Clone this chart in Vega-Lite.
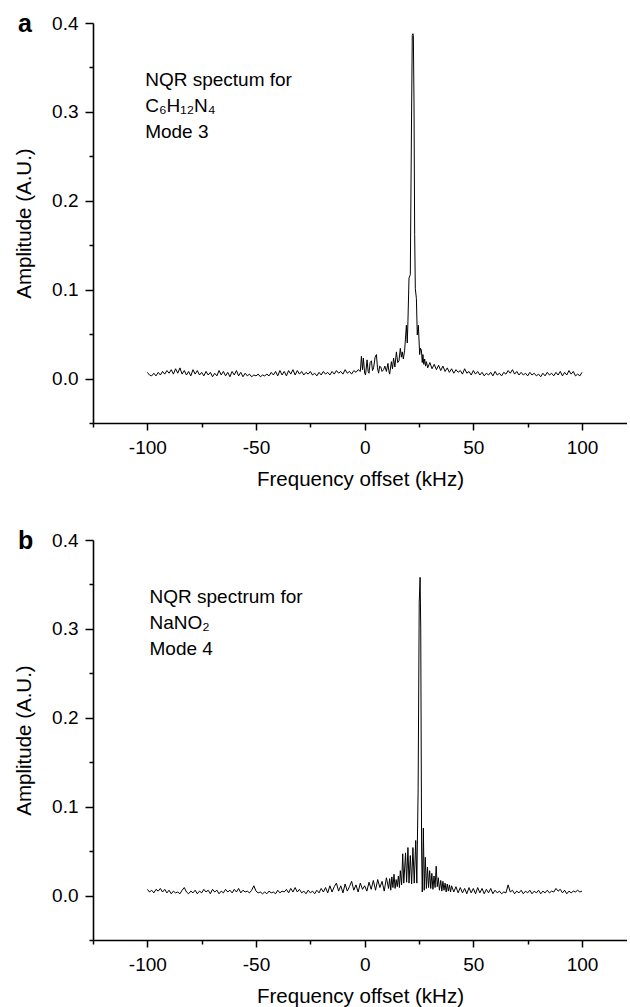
{
"$schema": "https://vega.github.io/schema/vega-lite/v6.json",
"padding": {"left": 14, "top": 11, "right": 0, "bottom": 0},
"bounds": "flush",
"spacing": 117,
"config": {
 "view": {"stroke": null},
 "font": "Liberation Sans",
 "axis": {"domainColor": "black", "domainWidth": 1.6, "tickColor": "black", "tickWidth": 1.5, "labelColor": "black", "labelFontSize": 19, "labelFont": "Liberation Sans", "titleFont": "Liberation Sans", "titleFontSize": 20.5, "titleFontWeight": "normal", "titleColor": "black", "grid": false, "labelFlush": false, "labelOverlap": false}
},
"datasets": {
"sa": [
{"f":-100,"v":0.007},{"f":-99,"v":0.004},{"f":-98,"v":0.003},{"f":-97,"v":0.006},{"f":-96,"v":0.003},{"f":-95,"v":0.007},{"f":-94,"v":0.004},{"f":-93,"v":0.008},{"f":-92,"v":0.005},{"f":-91,"v":0.009},{"f":-90,"v":0.006},{"f":-89,"v":0.010},{"f":-88,"v":0.005},{"f":-87,"v":0.011},{"f":-86,"v":0.006},{"f":-85,"v":0.012},{"f":-84,"v":0.005},{"f":-83,"v":0.009},{"f":-82,"v":0.004},{"f":-81,"v":0.008},{"f":-80,"v":0.003},{"f":-79,"v":0.010},{"f":-78,"v":0.005},{"f":-77,"v":0.009},{"f":-76,"v":0.004},{"f":-75,"v":0.007},{"f":-74,"v":0.003},{"f":-73,"v":0.008},{"f":-72,"v":0.004},{"f":-71,"v":0.007},{"f":-70,"v":0.002},{"f":-69,"v":0.006},{"f":-68,"v":0.003},{"f":-67,"v":0.009},{"f":-66,"v":0.004},{"f":-65,"v":0.008},{"f":-64,"v":0.003},{"f":-63,"v":0.007},{"f":-62,"v":0.002},{"f":-61,"v":0.008},{"f":-60,"v":0.004},{"f":-59,"v":0.009},{"f":-58,"v":0.003},{"f":-57,"v":0.007},{"f":-56,"v":0.002},{"f":-55,"v":0.006},{"f":-54,"v":0.003},{"f":-53,"v":0.005},{"f":-52,"v":0.002},{"f":-51,"v":0.004},{"f":-50,"v":0.003},{"f":-49,"v":0.005},{"f":-48,"v":0.002},{"f":-47,"v":0.004},{"f":-46,"v":0.003},{"f":-45,"v":0.005},{"f":-44,"v":0.003},{"f":-43,"v":0.007},{"f":-42,"v":0.004},{"f":-41,"v":0.008},{"f":-40,"v":0.003},{"f":-39,"v":0.009},{"f":-38,"v":0.004},{"f":-37,"v":0.008},{"f":-36,"v":0.003},{"f":-35,"v":0.009},{"f":-34,"v":0.005},{"f":-33,"v":0.010},{"f":-32,"v":0.004},{"f":-31,"v":0.009},{"f":-30,"v":0.005},{"f":-29,"v":0.008},{"f":-28,"v":0.004},{"f":-27,"v":0.007},{"f":-26,"v":0.005},{"f":-25,"v":0.008},{"f":-24,"v":0.004},{"f":-23,"v":0.006},{"f":-22,"v":0.003},{"f":-21,"v":0.007},{"f":-20,"v":0.004},{"f":-19,"v":0.008},{"f":-18,"v":0.005},{"f":-17,"v":0.007},{"f":-16,"v":0.004},{"f":-15,"v":0.008},{"f":-14,"v":0.005},{"f":-13,"v":0.009},{"f":-12,"v":0.006},{"f":-11,"v":0.008},{"f":-10,"v":0.005},{"f":-9,"v":0.010},{"f":-8,"v":0.006},{"f":-7,"v":0.008},{"f":-6,"v":0.005},{"f":-5,"v":0.009},{"f":-4,"v":0.007},{"f":-3,"v":0.010},
{"f":-2,"v":0.008},{"f":-1.5,"v":0.025},{"f":-1,"v":0.010},{"f":-0.6,"v":0.023},{"f":0,"v":0.006},{"f":0.4,"v":0.004},{"f":1.1,"v":0.021},{"f":1.6,"v":0.008},{"f":2,"v":0.006},{"f":2.5,"v":0.018},{"f":3.1,"v":0.020},{"f":3.6,"v":0.009},{"f":4.1,"v":0.012},{"f":4.8,"v":0.024},{"f":5.4,"v":0.027},{"f":5.9,"v":0.012},{"f":6.4,"v":0.006},{"f":6.9,"v":0.014},{"f":7.4,"v":0.013},{"f":8,"v":0.008},{"f":8.7,"v":0.010},{"f":9.3,"v":0.014},{"f":10,"v":0.008},{"f":10.7,"v":0.017},{"f":11.1,"v":0.009},{"f":11.5,"v":0.005},{"f":12.3,"v":0.019},{"f":12.8,"v":0.011},{"f":13.3,"v":0.023},{"f":13.9,"v":0.013},{"f":14.6,"v":0.030},{"f":15.2,"v":0.018},{"f":15.8,"v":0.020},{"f":16.4,"v":0.034},{"f":16.9,"v":0.024},{"f":17.3,"v":0.030},{"f":17.8,"v":0.022},{"f":18.4,"v":0.032},{"f":19.2,"v":0.060},{"f":19.6,"v":0.040},{"f":19.9,"v":0.064},{"f":20.4,"v":0.113},{"f":21,"v":0.117},{"f":21.5,"v":0.274},{"f":21.9,"v":0.386},{"f":22.2,"v":0.388},{"f":22.4,"v":0.386},{"f":22.7,"v":0.311},{"f":23,"v":0.162},{"f":23.3,"v":0.101},{"f":23.8,"v":0.090},{"f":24.2,"v":0.049},{"f":24.7,"v":0.060},{"f":25.3,"v":0.027},{"f":25.7,"v":0.034},{"f":26.1,"v":0.032},{"f":26.5,"v":0.018},{"f":26.8,"v":0.027},{"f":27.2,"v":0.016},{"f":27.6,"v":0.022},{"f":28,"v":0.014},{"f":28.4,"v":0.019},
{"f":29,"v":0.012},{"f":30,"v":0.018},{"f":31,"v":0.011},{"f":32,"v":0.016},{"f":33,"v":0.010},{"f":34,"v":0.015},{"f":35,"v":0.009},{"f":36,"v":0.014},{"f":37,"v":0.008},{"f":38,"v":0.012},{"f":39,"v":0.007},{"f":40,"v":0.011},{"f":41,"v":0.006},{"f":42,"v":0.010},{"f":43,"v":0.007},{"f":44,"v":0.009},{"f":45,"v":0.005},{"f":46,"v":0.011},{"f":47,"v":0.006},{"f":48,"v":0.008},{"f":49,"v":0.004},{"f":50,"v":0.009},{"f":51,"v":0.005},{"f":52,"v":0.008},{"f":53,"v":0.004},{"f":54,"v":0.007},{"f":55,"v":0.003},{"f":56,"v":0.006},{"f":57,"v":0.004},{"f":58,"v":0.007},{"f":59,"v":0.003},{"f":60,"v":0.008},{"f":61,"v":0.004},{"f":62,"v":0.006},{"f":63,"v":0.003},{"f":64,"v":0.007},{"f":65,"v":0.005},{"f":66,"v":0.009},{"f":67,"v":0.006},{"f":68,"v":0.010},{"f":69,"v":0.005},{"f":70,"v":0.008},{"f":71,"v":0.004},{"f":72,"v":0.007},{"f":73,"v":0.004},{"f":74,"v":0.006},{"f":75,"v":0.003},{"f":76,"v":0.007},{"f":77,"v":0.004},{"f":78,"v":0.006},{"f":79,"v":0.003},{"f":80,"v":0.005},{"f":81,"v":0.002},{"f":82,"v":0.006},{"f":83,"v":0.003},{"f":84,"v":0.007},{"f":85,"v":0.004},{"f":86,"v":0.006},{"f":87,"v":0.003},{"f":88,"v":0.007},{"f":89,"v":0.004},{"f":90,"v":0.008},{"f":91,"v":0.003},{"f":92,"v":0.007},{"f":93,"v":0.004},{"f":94,"v":0.009},{"f":95,"v":0.005},{"f":96,"v":0.008},{"f":97,"v":0.003},{"f":98,"v":0.005},{"f":99,"v":0.003},{"f":100,"v":0.007}
],
"sb": [
{"f":-100,"v":0.007},{"f":-99,"v":0.004},{"f":-98,"v":0.006},{"f":-97,"v":0.003},{"f":-96,"v":0.007},{"f":-95,"v":0.005},{"f":-94,"v":0.008},{"f":-93,"v":0.004},{"f":-92,"v":0.007},{"f":-91,"v":0.003},{"f":-90,"v":0.006},{"f":-89,"v":0.002},{"f":-88,"v":0.005},{"f":-87,"v":0.003},{"f":-86,"v":0.004},{"f":-85,"v":0.002},{"f":-84,"v":0.006},{"f":-83,"v":0.009},{"f":-82,"v":0.004},{"f":-81,"v":0.002},{"f":-80,"v":0.005},{"f":-79,"v":0.003},{"f":-78,"v":0.006},{"f":-77,"v":0.002},{"f":-76,"v":0.005},{"f":-75,"v":0.003},{"f":-74,"v":0.007},{"f":-73,"v":0.004},{"f":-72,"v":0.006},{"f":-71,"v":0.002},{"f":-70,"v":0.007},{"f":-69,"v":0.004},{"f":-68,"v":0.006},{"f":-67,"v":0.002},{"f":-66,"v":0.005},{"f":-65,"v":0.003},{"f":-64,"v":0.007},{"f":-63,"v":0.004},{"f":-62,"v":0.006},{"f":-61,"v":0.003},{"f":-60,"v":0.007},{"f":-59,"v":0.004},{"f":-58,"v":0.008},{"f":-57,"v":0.003},{"f":-56,"v":0.006},{"f":-55,"v":0.004},{"f":-54,"v":0.005},{"f":-53,"v":0.003},{"f":-52,"v":0.006},{"f":-51,"v":0.011},{"f":-50,"v":0.005},{"f":-49,"v":0.003},{"f":-48,"v":0.004},{"f":-47,"v":0.002},{"f":-46,"v":0.004},{"f":-45,"v":0.002},{"f":-44,"v":0.005},{"f":-43,"v":0.003},{"f":-42,"v":0.004},{"f":-41,"v":0.002},{"f":-40,"v":0.006},{"f":-39,"v":0.003},{"f":-38,"v":0.005},{"f":-37,"v":0.004},{"f":-36,"v":0.007},{"f":-35,"v":0.003},{"f":-34,"v":0.008},{"f":-33,"v":0.004},{"f":-32,"v":0.009},{"f":-31,"v":0.004},{"f":-30,"v":0.007},{"f":-29,"v":0.003},{"f":-28,"v":0.005},{"f":-27,"v":0.002},{"f":-26,"v":0.006},{"f":-25,"v":0.003},{"f":-24,"v":0.005},{"f":-23,"v":0.002},{"f":-22,"v":0.006},{"f":-21,"v":0.003},{"f":-20,"v":0.008},{"f":-19,"v":0.004},{"f":-18,"v":0.009},{"f":-17,"v":0.003},{"f":-16,"v":0.011},{"f":-15,"v":0.004},{"f":-14,"v":0.010},{"f":-13,"v":0.014},{"f":-12,"v":0.005},{"f":-11,"v":0.011},{"f":-10,"v":0.003},{"f":-9,"v":0.013},{"f":-8,"v":0.005},{"f":-7,"v":0.010},{"f":-6,"v":0.016},{"f":-5,"v":0.006},{"f":-4,"v":0.012},{"f":-3,"v":0.004},{"f":-2,"v":0.014},{"f":-1,"v":0.007},{"f":0,"v":0.011},{"f":1,"v":0.005},{"f":2,"v":0.015},{"f":3,"v":0.007},{"f":4,"v":0.017},{"f":5,"v":0.006},{"f":6,"v":0.018},{"f":7,"v":0.009},{"f":8,"v":0.016},{"f":9,"v":0.005},{"f":10,"v":0.020},{"f":11,"v":0.008},{"f":11.5,"v":0.019},{"f":12,"v":0.006},{"f":12.5,"v":0.021},
{"f":13,"v":0.009},{"f":13.5,"v":0.024},{"f":14,"v":0.008},{"f":14.5,"v":0.018},{"f":15,"v":0.010},{"f":15.5,"v":0.022},{"f":16,"v":0.009},{"f":16.4,"v":0.028},{"f":17,"v":0.012},{"f":17.5,"v":0.047},{"f":18,"v":0.014},{"f":18.8,"v":0.048},{"f":19.3,"v":0.015},{"f":19.9,"v":0.054},{"f":20.4,"v":0.014},{"f":21,"v":0.045},{"f":21.6,"v":0.013},{"f":22.2,"v":0.054},{"f":22.8,"v":0.014},{"f":23.5,"v":0.062},{"f":24,"v":0.014},{"f":24.6,"v":0.120},{"f":25.1,"v":0.330},{"f":25.5,"v":0.358},{"f":25.8,"v":0.300},{"f":26.2,"v":0.050},{"f":26.5,"v":0.004},{"f":27,"v":0.076},{"f":27.4,"v":0.006},{"f":27.9,"v":0.043},{"f":28.4,"v":0.008},{"f":28.9,"v":0.032},{"f":29.4,"v":0.009},{"f":29.9,"v":0.028},{"f":30.4,"v":0.008},{"f":30.9,"v":0.025},{"f":31.4,"v":0.007},{"f":31.9,"v":0.022},{"f":32.4,"v":0.009},{"f":32.9,"v":0.033},{"f":33.4,"v":0.010},{"f":33.9,"v":0.020},{"f":34.4,"v":0.006},{"f":35,"v":0.017},{"f":35.5,"v":0.005},{"f":36,"v":0.016},{"f":36.5,"v":0.006},{"f":37,"v":0.014},{"f":37.5,"v":0.004},{"f":38,"v":0.013},{"f":38.5,"v":0.005},{"f":39,"v":0.012},{"f":39.5,"v":0.004},{"f":40,"v":0.011},{"f":41,"v":0.004},{"f":42,"v":0.010},{"f":43,"v":0.003},{"f":44,"v":0.009},{"f":45,"v":0.003},{"f":46,"v":0.008},{"f":47,"v":0.002},{"f":48,"v":0.009},{"f":49,"v":0.003},{"f":50,"v":0.008},{"f":51,"v":0.002},{"f":52,"v":0.009},{"f":53,"v":0.003},{"f":54,"v":0.008},{"f":55,"v":0.002},{"f":56,"v":0.007},{"f":57,"v":0.003},{"f":58,"v":0.008},{"f":59,"v":0.002},{"f":60,"v":0.006},{"f":61,"v":0.003},{"f":62,"v":0.005},{"f":63,"v":0.002},{"f":64,"v":0.004},{"f":65,"v":0.003},{"f":66,"v":0.012},{"f":67,"v":0.004},{"f":68,"v":0.006},{"f":69,"v":0.002},{"f":70,"v":0.005},{"f":71,"v":0.003},{"f":72,"v":0.006},{"f":73,"v":0.002},{"f":74,"v":0.005},{"f":75,"v":0.003},{"f":76,"v":0.006},{"f":77,"v":0.002},{"f":78,"v":0.005},{"f":79,"v":0.003},{"f":80,"v":0.006},{"f":81,"v":0.002},{"f":82,"v":0.005},{"f":83,"v":0.003},{"f":84,"v":0.006},{"f":85,"v":0.003},{"f":86,"v":0.005},{"f":87,"v":0.004},{"f":88,"v":0.008},{"f":89,"v":0.005},{"f":90,"v":0.007},{"f":91,"v":0.003},{"f":92,"v":0.006},{"f":93,"v":0.002},{"f":94,"v":0.005},{"f":95,"v":0.003},{"f":96,"v":0.005},{"f":97,"v":0.004},{"f":98,"v":0.006},{"f":99,"v":0.004},{"f":100,"v":0.005}
]
},
"vconcat": [
{
 "width": 534, "height": 400,
 "layer": [
  {"data": {"name": "sa"},
   "mark": {"type": "line", "color": "black", "strokeWidth": 1},
   "encoding": {
    "x": {"field": "f", "type": "quantitative", "scale": {"domain": [-125, 120.7], "nice": false, "zero": false},
     "axis": {"title": "Frequency offset (kHz)", "values": [-125,-100,-75,-50,-25,0,25,50,75,100], "labelExpr": "datum.value % 50 == 0 ? (datum.value < 0 ? '-' : '') + abs(datum.value) : ''", "tickSize": {"condition": {"test": "datum.value % 50 != 0", "value": 4}, "value": 7}, "labelPadding": 8, "titlePadding": 12}},
    "y": {"field": "v", "type": "quantitative", "scale": {"domain": [-0.05, 0.4], "nice": false, "zero": false},
     "axis": {"title": "Amplitude (A.U.)", "values": [-0.05,0,0.05,0.1,0.15,0.2,0.25,0.3,0.35,0.4], "labelExpr": "round(datum.value*20) % 2 == 0 ? format(datum.value, '.1f') : ''", "tickSize": {"condition": {"test": "round(datum.value*20) % 2 != 0", "value": 4}, "value": 8}, "labelPadding": 7, "titlePadding": 17}}
   }},
  {"data": {"values": [{"note": "NQR spectum for\nC₆H₁₂N₄\nMode 3"}]},
   "mark": {"type": "text", "align": "left", "baseline": "alphabetic", "lineBreak": "\n", "lineHeight": 25.7, "fontSize": 19, "font": "Liberation Sans", "color": "black"},
   "encoding": {"x": {"datum": -101, "type": "quantitative"}, "y": {"datum": 0.329, "type": "quantitative"}, "text": {"field": "note"}}},
  {"data": {"values": [{"panel": "a"}]},
   "mark": {"type": "text", "align": "left", "baseline": "alphabetic", "fontSize": 25, "fontWeight": "bold", "font": "Liberation Sans", "color": "black", "clip": false},
   "encoding": {"x": {"datum": -159.5, "type": "quantitative"}, "y": {"datum": 0.39, "type": "quantitative"}, "text": {"field": "panel"}}}
 ]
},
{
 "width": 534, "height": 400,
 "layer": [
  {"data": {"name": "sb"},
   "mark": {"type": "line", "color": "black", "strokeWidth": 1},
   "encoding": {
    "x": {"field": "f", "type": "quantitative", "scale": {"domain": [-125, 120.7], "nice": false, "zero": false},
     "axis": {"title": "Frequency offset (kHz)", "values": [-125,-100,-75,-50,-25,0,25,50,75,100], "labelExpr": "datum.value % 50 == 0 ? (datum.value < 0 ? '-' : '') + abs(datum.value) : ''", "tickSize": {"condition": {"test": "datum.value % 50 != 0", "value": 4}, "value": 7}, "labelPadding": 8, "titlePadding": 12}},
    "y": {"field": "v", "type": "quantitative", "scale": {"domain": [-0.05, 0.4], "nice": false, "zero": false},
     "axis": {"title": "Amplitude (A.U.)", "values": [-0.05,0,0.05,0.1,0.15,0.2,0.25,0.3,0.35,0.4], "labelExpr": "round(datum.value*20) % 2 == 0 ? format(datum.value, '.1f') : ''", "tickSize": {"condition": {"test": "round(datum.value*20) % 2 != 0", "value": 4}, "value": 8}, "labelPadding": 7, "titlePadding": 17}}
   }},
  {"data": {"values": [{"note": "NQR spectrum for\nNaNO₂\nMode 4"}]},
   "mark": {"type": "text", "align": "left", "baseline": "alphabetic", "lineBreak": "\n", "lineHeight": 25.7, "fontSize": 19, "font": "Liberation Sans", "color": "black"},
   "encoding": {"x": {"datum": -99, "type": "quantitative"}, "y": {"datum": 0.329, "type": "quantitative"}, "text": {"field": "note"}}},
  {"data": {"values": [{"panel": "b"}]},
   "mark": {"type": "text", "align": "left", "baseline": "alphabetic", "fontSize": 25, "fontWeight": "bold", "font": "Liberation Sans", "color": "black", "clip": false},
   "encoding": {"x": {"datum": -159.5, "type": "quantitative"}, "y": {"datum": 0.39, "type": "quantitative"}, "text": {"field": "panel"}}}
 ]
}
]
}
